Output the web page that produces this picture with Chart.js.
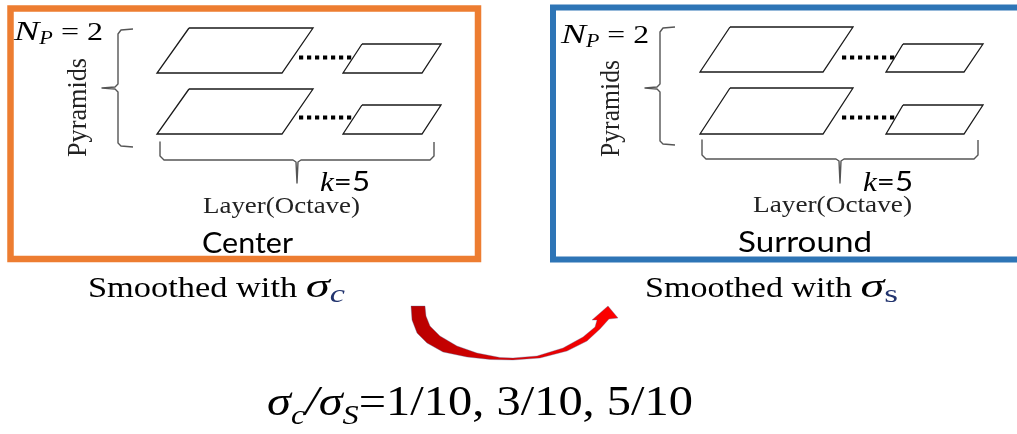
<!DOCTYPE html>
<html>
<head>
<meta charset="utf-8">
<script src="https://cdn.jsdelivr.net/npm/chart.js@4.4.1/dist/chart.umd.min.js"></script>
<style>
  html, body { margin: 0; padding: 0; background: #fff; }
  #wrap { width: 1017px; height: 434px; }
</style>
</head>
<body>
<div id="wrap"><canvas id="diagram" width="1017" height="434"></canvas></div>
<script>
// all shapes are in picture pixels: x to the right, y downwards

// frames (start at the middle of the top edge so every corner gets a mitre)
const centerFrame = [[244, 8.5], [478, 8.5], [478, 259], [10.5, 259], [10.5, 8.5], [244, 8.5]];
const surroundFrame = [[790, 7.5], [1035, 7.5], [1035, 259.5], [553, 259.5], [553, 7.5], [790, 7.5]];

// pyramid layers, left panel
const centerLayers = [
  [[189, 28], [313, 28], [282, 73], [157, 73]],
  [[362, 44], [441, 44], [422, 73], [343, 73]],
  [[189, 89], [313, 89], [282, 134], [157, 134]],
  [[362, 105], [441, 105], [422, 134], [343, 134]]
];
// pyramid layers, right panel
const surroundLayers = [
  [[730, 27], [853, 27], [823, 72], [700, 72]],
  [[903, 44], [983, 44], [964, 72], [886, 72]],
  [[730, 88], [853, 88], [823, 134], [700, 134]],
  [[903, 105], [983, 105], [964, 134], [886, 134]]
];

// dotted links between the big and the small layer
const dotLinks = [
  [[299, 57.5], [355, 57.5]],
  [[299, 117.5], [355, 117.5]],
  [[842, 57.5], [898, 57.5]],
  [[842, 117.5], [898, 117.5]]
];

// curly braces
const braces = [
  [[133, 29], [121, 30], [118, 34], [118, 84], [115, 87], [102, 88], [115, 89], [118, 92], [118, 143], [121, 146], [133, 147]],
  [[160, 142], [160, 156], [164, 160], [293, 160], [296, 162], [297, 183], [298, 162], [301, 160], [430, 160], [434, 156], [434, 142]],
  [[675, 27], [663, 28], [660, 32], [660, 84], [657, 87], [645, 88], [657, 89], [660, 92], [660, 141], [663, 144], [675, 145]],
  [[702, 140], [702, 155], [706, 159], [836, 159], [839, 161], [840, 183], [841, 161], [844, 159], [974, 159], [978, 155], [978, 140]]
];

// curved red arrow from "Center" to "Surround" (outer edge, head, inner edge)
const arrowOutline = [
  [411, 306], [412, 320], [417, 333], [427, 343], [443, 352], [467, 357], [490, 359.5], [513, 360],
  [540, 358], [567, 351], [587, 341], [600, 329], [609, 319], [618, 318], [608, 306], [592, 320],
  [597, 320], [595, 327], [583, 337], [563, 348], [537, 356], [513, 358], [500, 357.5],
  [477, 353], [457, 346], [440, 336], [430, 326], [426, 316], [425, 306], [411, 306]
];
const arrowGradient = [411, 618];

// texts
const panelNames = ["Center", "Surround"];
const npLabel = ["N", "P", " = 2"];
const kLabel = ["k", "=5"];
const pyramidLabel = "Pyramids";
const layerLabel = "Layer(Octave)";
const smoothLabels = [["Smoothed with ", "σ", "c"], ["Smoothed with ", "σ", "s"]];
const ratioLabel = ["σ", "c", "/", "σ", "S", "=1/10, 3/10, 5/10"];

const SERIF = '"Liberation Serif", "Times New Roman", serif';
const SANS = 'Lato, "Open Sans", sans-serif';
const MATHBLUE = "#22346e";

function pts(list, close) {
  const d = list.map(p => ({ x: p[0], y: p[1] }));
  if (close) d.push({ x: list[0][0], y: list[0][1] });
  return d;
}

function shape(list, close, opts) {
  return Object.assign({
    data: pts(list, close),
    borderColor: "#1a1a1a",
    borderWidth: 1.2,
    pointRadius: 0,
    fill: false,
    tension: 0,
    clip: false
  }, opts || {});
}

let datasets = [];
datasets.push(shape(centerFrame, false, { borderColor: "#ED7D31", borderWidth: 6.5 }));
datasets.push(shape(surroundFrame, false, { borderColor: "#2E75B6", borderWidth: 6 }));
centerLayers.concat(surroundLayers).forEach(l => datasets.push(shape(l, true, { borderWidth: 1.3 })));
dotLinks.forEach(l => datasets.push(shape(l, false, { borderWidth: 4, borderDash: [4.2, 3.8], borderColor: "#000" })));
braces.forEach(b => datasets.push(shape(b, false, { borderColor: "#555", borderWidth: 1.4, borderJoinStyle: "round" })));
datasets.push(shape(arrowOutline, false, {
  borderColor: "rgba(80,110,160,0.55)",
  borderWidth: 0.6,
  fill: "shape",
  backgroundColor: (ctx) => {
    const ch = ctx.chart;
    if (!ch.chartArea || !ch.scales.x) return "#e00000";
    const xs = ch.scales.x;
    const g = ch.ctx.createLinearGradient(xs.getPixelForValue(arrowGradient[0]), 0, xs.getPixelForValue(arrowGradient[1]), 0);
    g.addColorStop(0, "#B80000");
    g.addColorStop(1, "#FF0000");
    return g;
  }
}));

// text layout: runs of [text, font, dy, colour, own horizontal stretch]
const npRuns = [[npLabel[0], "italic 28px " + SERIF, 0, "#000", 1.1], [npLabel[1], "italic 18px " + SERIF, 4], [npLabel[2], "26px " + SERIF]];
const kRuns = [[kLabel[0], "italic 27px " + SERIF], [kLabel[1], "27px " + SANS]];
const textLayout = [
  { runs: npRuns, x0: 14, x1: 103, y: 40 },
  { runs: npRuns, x0: 561, x1: 649, y: 43 },
  { runs: [[pyramidLabel, "28px " + SERIF, 0, "#222"]], x0: 157, x1: 58, y: 86, rot: true },
  { runs: [[pyramidLabel, "28px " + SERIF, 0, "#222"]], x0: 157, x1: 60, y: 619, rot: true },
  { runs: kRuns, x0: 320, x1: 370, y: 191 },
  { runs: kRuns, x0: 863, x1: 913, y: 191 },
  { runs: [[layerLabel, "24px " + SERIF, 0, "#222"]], x0: 203, x1: 360, y: 213 },
  { runs: [[layerLabel, "24px " + SERIF, 0, "#222"]], x0: 753, x1: 912, y: 212 },
  { runs: [[panelNames[0], "28px " + SANS]], x0: 202, x1: 293, y: 253 },
  { runs: [[panelNames[1], "28px " + SANS]], x0: 738, x1: 872, y: 252 },
  { runs: [[smoothLabels[0][0], "30px " + SERIF], [smoothLabels[0][1], "italic 34px " + SERIF, 0, "#000", 1.25],
           [smoothLabels[0][2], "italic 26px " + SERIF, 5, MATHBLUE, 1.15]], x0: 88, x1: 345, y: 297 },
  { runs: [[smoothLabels[1][0], "30px " + SERIF], [smoothLabels[1][1], "italic 34px " + SERIF, 0, "#000", 1.25],
           [smoothLabels[1][2], "26px " + SERIF, 5, MATHBLUE, 1.2]], x0: 645, x1: 898, y: 297 },
  { runs: [[ratioLabel[0], "italic 42px " + SERIF], [ratioLabel[1], "italic 28px " + SERIF, 9], [ratioLabel[2], "italic 42px " + SERIF],
           [ratioLabel[3], "italic 42px " + SERIF], [ratioLabel[4], "italic 28px " + SERIF, 9], [ratioLabel[5], "42px " + SERIF]], x0: 267, x1: 693, y: 415 }
];

const textPlugin = {
  id: "diagramText",
  afterDraw(chart) {
    const c = chart.ctx;
    const xs = chart.scales.x, ys = chart.scales.y;
    textLayout.forEach(item => {
      let w = 0;
      item.runs.forEach(r => { c.font = r[1]; w += c.measureText(r[0]).width * (r[4] || 1); });
      c.save();
      c.textBaseline = "alphabetic";
      c.textAlign = "left";
      let len;
      if (item.rot) {
        // rotated label: x0/x1 are the vertical extent, y is the baseline x
        c.translate(xs.getPixelForValue(item.y), ys.getPixelForValue(item.x0));
        c.rotate(-Math.PI / 2);
        len = ys.getPixelForValue(item.x0) - ys.getPixelForValue(item.x1);
      } else {
        c.translate(xs.getPixelForValue(item.x0), ys.getPixelForValue(item.y));
        len = xs.getPixelForValue(item.x1) - xs.getPixelForValue(item.x0);
      }
      c.scale(len / w, 1);
      let x = 0;
      item.runs.forEach(r => {
        const sx = r[4] || 1;
        c.font = r[1];
        c.fillStyle = r[3] || "#000";
        c.save();
        c.translate(x, r[2] || 0);
        c.scale(sx, 1);
        c.fillText(r[0], 0, 0);
        c.restore();
        x += c.measureText(r[0]).width * sx;
      });
      c.restore();
    });
  }
};

const chart = new Chart(document.getElementById("diagram"), {
  type: "line",
  data: { datasets: datasets },
  options: {
    responsive: false,
    animation: false,
    devicePixelRatio: 1,
    layout: { padding: 0 },
    plugins: { legend: { display: false }, tooltip: { enabled: false } },
    scales: {
      x: { type: "linear", min: 0, max: 1017, display: false },
      y: { type: "linear", min: 0, max: 434, reverse: true, display: false }
    }
  },
  plugins: [textPlugin]
});
</script>
</body>
</html>
